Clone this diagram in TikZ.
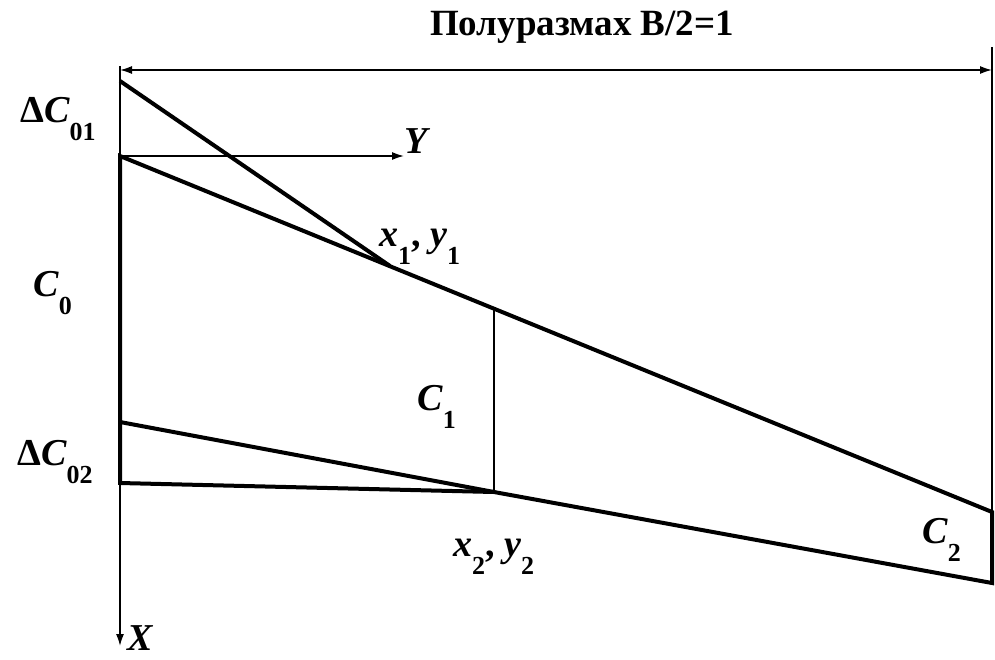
\documentclass[tikz,border=0pt]{standalone}
\usepackage{fontspec}
\setmainfont{Liberation Serif}
\usetikzlibrary{arrows.meta}

% subscript in the labels
\newcommand{\sbx}[1]{\raisebox{-18pt}{\fontsize{26}{26}\selectfont #1}}

\tikzset{
  edge/.style={line width=4pt},
  guide/.style={line width=1.6pt},
  tip/.style={-{Latex[length=12pt,width=8pt]}},
  lbl/.style={font=\fontsize{38}{40}\selectfont\bfseries, inner sep=0pt, anchor=base west}
}

\begin{document}
\begin{tikzpicture}[x=1pt, y=-1pt]
    \useasboundingbox (0,0) rectangle (995,659);

    % 1. Punti del profilo
    \coordinate (dimL) at (120,70);
    \coordinate (dimR) at (992,70);
    \coordinate (topL) at (120,66);
    \coordinate (topR) at (992,47);
    \coordinate (o)    at (120,156);
    \coordinate (d1)   at (120,81);
    \coordinate (p1)   at (390,266);
    \coordinate (d2)   at (120,422);
    \coordinate (c0b)  at (120,483);
    \coordinate (p2)   at (494,492);
    \coordinate (c1t)  at (494,309);
    \coordinate (c2t)  at (992,512);
    \coordinate (c2b)  at (992,583);
    \coordinate (xend) at (120,646);
    \coordinate (yend) at (404,156);

    % 2. Linee sottili: assi, quota, corda C1
    \draw[guide, tip] (topL) -- (xend);
    \draw[guide] (topR) -- (c2t);
    \draw[guide, {Latex[length=12pt,width=8pt]}-{Latex[length=12pt,width=8pt]}] (dimL) -- (dimR);
    \draw[guide, tip] (o) -- (yend);
    \draw[guide] (c1t) -- (p2);

    % 3. Contorno della semiala
    \draw[edge] (o) -- (c2t) -- (c2b) -- (p2) -- (c0b) -- cycle;
    \draw[edge] (d1) -- (p1);
    \draw[edge] (d2) -- (p2);

    % 4. Testi
    \node[lbl, anchor=base, font=\fontsize{37}{40}\selectfont\bfseries] (title) at (582,35) {Полуразмах B/2=1};
    \node[lbl] (dc01) at (20,122) {Δ\textit{C}\sbx{01}};
    \node[lbl] (c0) at (33,296) {\textit{C}\sbx{0}};
    \node[lbl] (dc02) at (17,465) {Δ\textit{C}\sbx{02}};
    \node[lbl] (ylab) at (404,153) {\textit{Y}};
    \node[lbl] (xlab) at (127,650) {\textit{X}};
    \node[lbl] (xy1) at (379,246) {\textit{x}\sbx{1}, \textit{y}\sbx{1}};
    \node[lbl] (c1) at (417,410) {\textit{C}\sbx{1}};
    \node[lbl] (xy2) at (453,556) {\textit{x}\sbx{2}, \textit{y}\sbx{2}};
    \node[lbl] (c2) at (922,543) {\textit{C}\sbx{2}};

\end{tikzpicture}
\end{document}
